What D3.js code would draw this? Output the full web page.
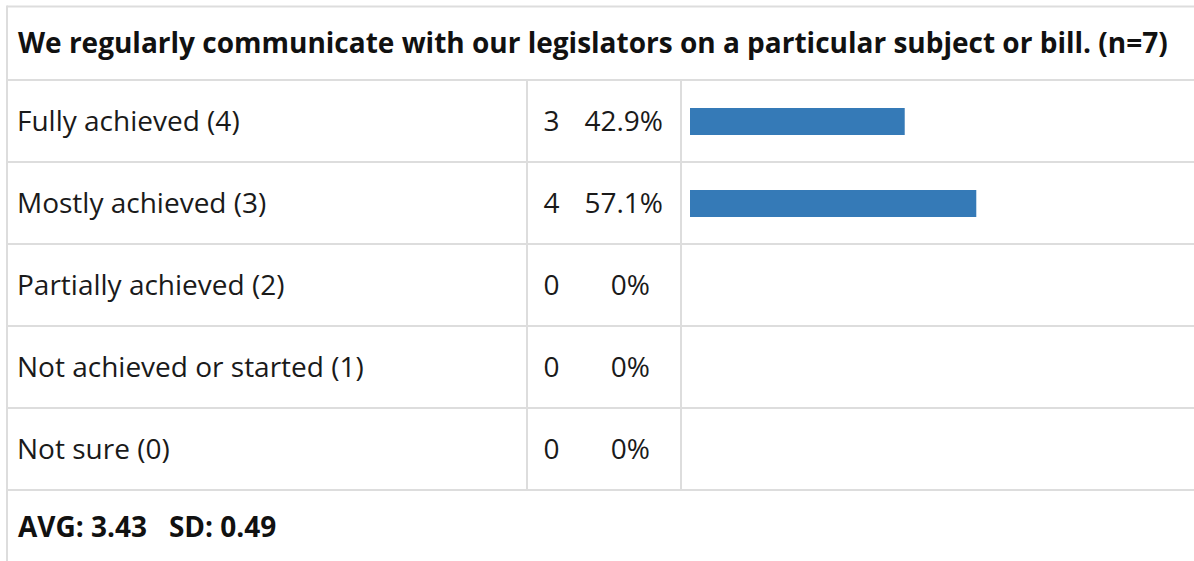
<!DOCTYPE html>
<html>
<head>
<meta charset="utf-8">
<script src="https://cdn.jsdelivr.net/npm/d3@7/dist/d3.min.js"></script>
<style>
  html, body { margin: 0; padding: 0; background: #fff; }
  svg { display: block; font-family: "Open Sans", "Noto Sans", sans-serif; }
</style>
</head>
<body>
<svg id="chart" width="1194" height="561"></svg>
<script>
// Survey item: response categories, counts and scale scores
const question = "We regularly communicate with our legislators on a particular subject or bill.";
const categories = ["Fully achieved (4)", "Mostly achieved (3)", "Partially achieved (2)", "Not achieved or started (1)", "Not sure (0)"];
const counts = [3, 4, 0, 0, 0];
const scores = [4, 3, 2, 1, 0];

const total = d3.sum(counts);
const shares = counts.map(c => c / total);

// Mean and (population) standard deviation over rated answers
const rated = counts.map((c, i) => ({ c, s: scores[i] })).filter(d => d.s > 0);
const nRated = d3.sum(rated, d => d.c);
const avg = d3.sum(rated, d => d.c * d.s) / nRated;
const sd = Math.sqrt(d3.sum(rated, d => d.c * (d.s - avg) ** 2) / nRated);

const W = 1194, H = 561;
const fontSize = 28;
const textColor = "#1a1a1a";
const gridColor = "#dddddd";
const barColor = "#357ab7";
const frameLeft = 7, frameTop = 6.5, headerBottom = 80, rowsBottom = 490;
const col1 = 527, col2 = 681;
const padX = 17;

const svg = d3.select("#chart");

// Rows
const y = d3.scaleBand().domain(categories).range([headerBottom, rowsBottom]).padding(0);
// Bar length
const x = d3.scaleLinear().domain([0, 1]).range([690, 1191]);

const grid = svg.append("g").attr("stroke", gridColor).attr("stroke-width", 2);

// outer left rule and top rule
grid.append("line").attr("x1", frameLeft).attr("x2", frameLeft).attr("y1", frameTop - 1).attr("y2", H);
grid.append("line").attr("x1", frameLeft).attr("x2", W).attr("y1", frameTop).attr("y2", frameTop);
// row separators
const rowEdges = [headerBottom].concat(categories.map(c => y(c) + y.bandwidth()));
grid.selectAll("line.row").data(rowEdges).join("line")
  .attr("class", "row")
  .attr("x1", frameLeft).attr("x2", W)
  .attr("y1", d => d).attr("y2", d => d);
// column separators
grid.selectAll("line.col").data([col1, col2]).join("line")
  .attr("class", "col")
  .attr("x1", d => d).attr("x2", d => d)
  .attr("y1", headerBottom).attr("y2", rowsBottom);

// Header
svg.append("text")
  .attr("x", padX + 1).attr("y", (frameTop + headerBottom) / 2 + 10)
  .attr("font-size", fontSize).attr("font-weight", 700).attr("fill", "#111")
  .text(`${question} (n=${total})`);

const rows = svg.selectAll("g.r").data(categories).join("g")
  .attr("class", "r")
  .attr("transform", d => `translate(0,${y(d) + y.bandwidth() / 2})`);

rows.append("text")
  .attr("x", padX).attr("y", 10)
  .attr("font-size", fontSize).attr("fill", textColor)
  .text(d => d);

rows.append("text")
  .attr("x", 551.5).attr("y", 10)
  .attr("text-anchor", "middle")
  .attr("font-size", fontSize).attr("fill", textColor)
  .text((d, i) => counts[i]);

const pct = v => v === 0 ? "0%" : d3.format(".1%")(v);
rows.append("text")
  .attr("x", (d, i) => shares[i] === 0 ? 650 : 663).attr("y", 10)
  .attr("text-anchor", "end")
  .attr("font-size", fontSize).attr("fill", textColor)
  .text((d, i) => pct(shares[i]));

rows.append("rect")
  .attr("x", x(0)).attr("y", -13)
  .attr("height", 27)
  .attr("width", (d, i) => x(shares[i]) - x(0))
  .attr("fill", barColor);

// Summary line
svg.append("text")
  .attr("x", padX + 1).attr("y", 537)
  .attr("font-size", fontSize).attr("font-weight", 700).attr("fill", "#111")
  .attr("xml:space", "preserve")
  .style("white-space", "pre")
  .text(`AVG: ${avg.toFixed(2)}   SD: ${sd.toFixed(2)}`);
</script>
</body>
</html>
